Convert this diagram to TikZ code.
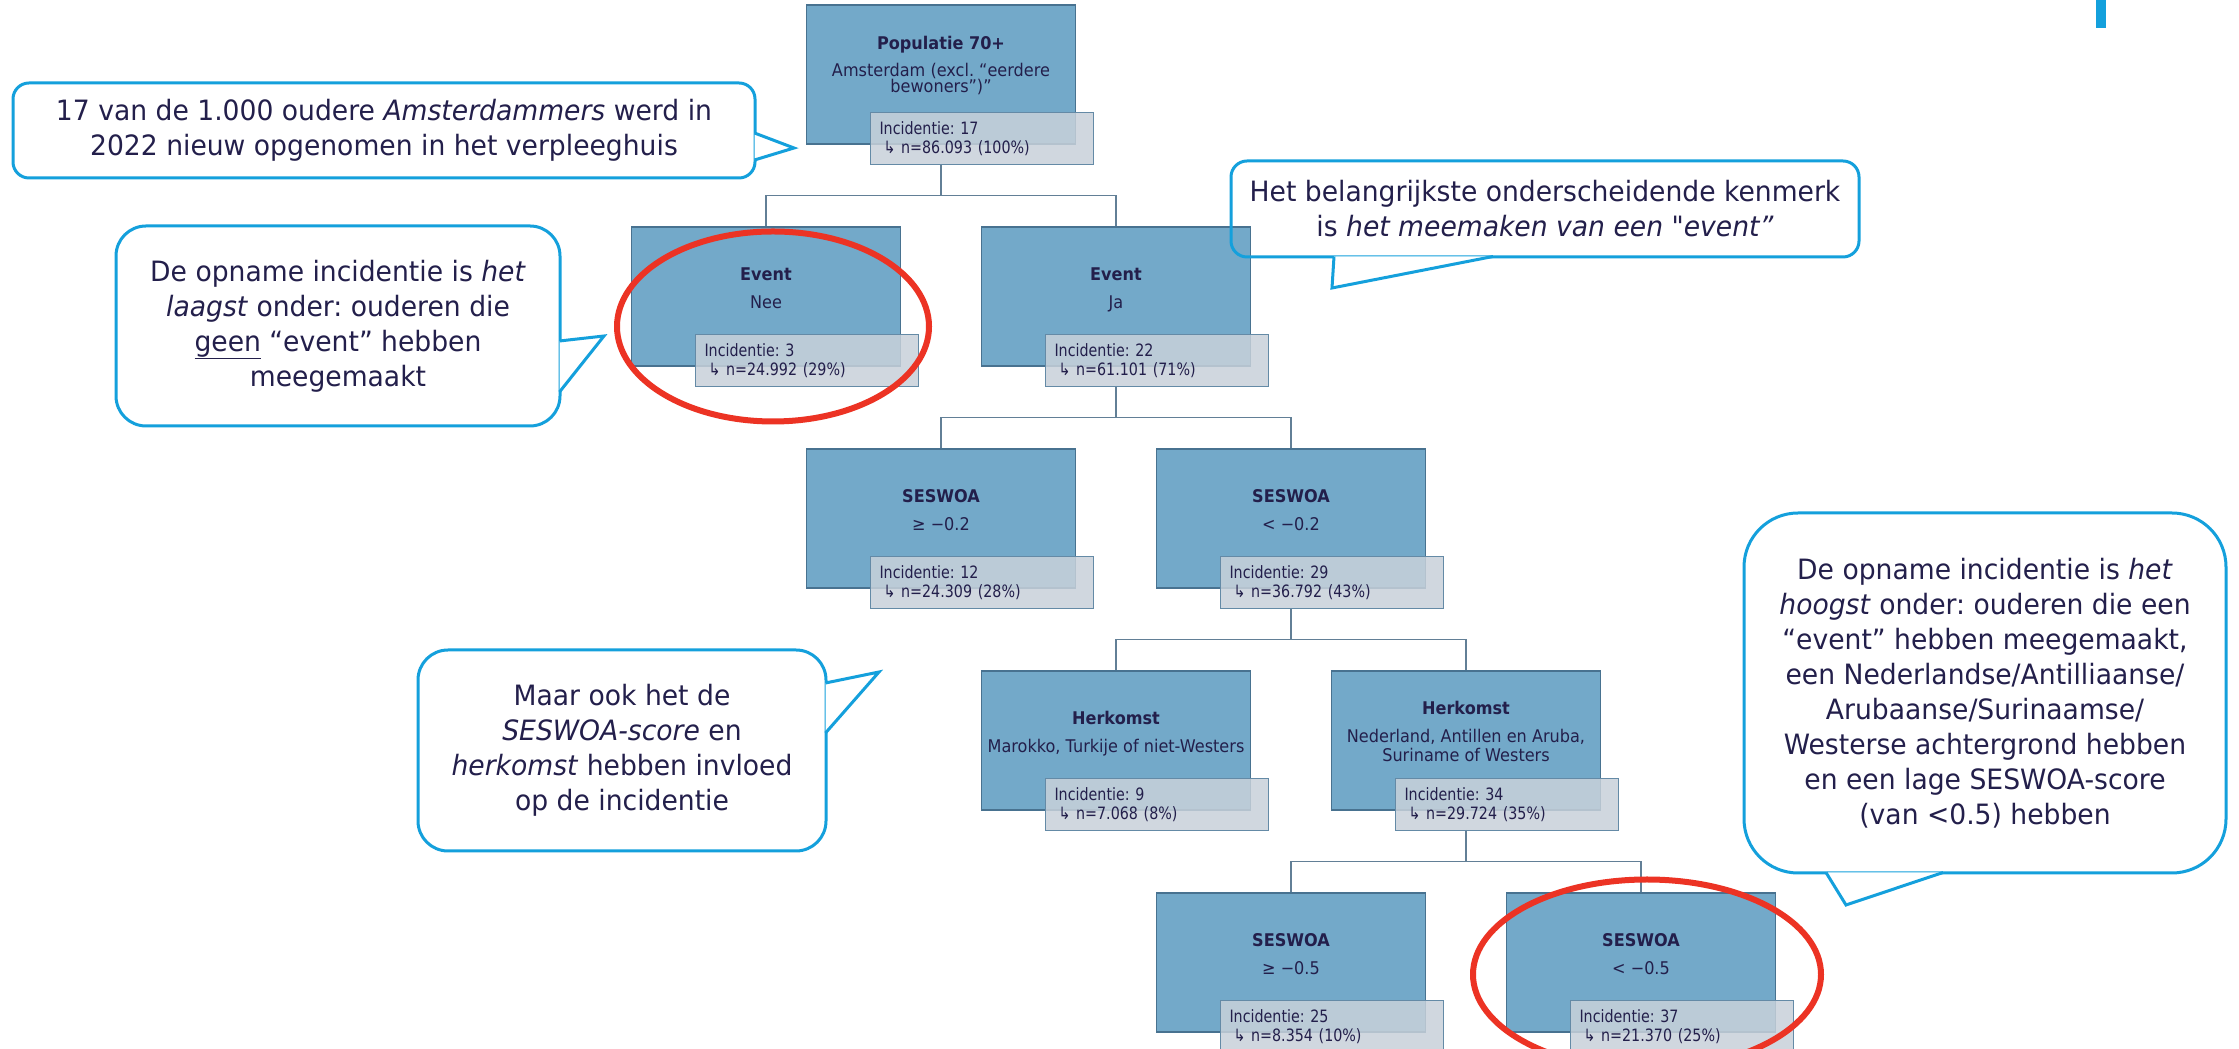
\documentclass[tikz,border=0pt]{standalone}
\usepackage{fontspec}
\setmainfont{DejaVu Sans}
\newfontfamily\splitfont[FakeStretch=0.92]{DejaVu Sans}
\newfontfamily\statfont[FakeStretch=0.84]{DejaVu Sans}
\newfontfamily\notefont[FakeStretch=0.95]{DejaVu Sans}
\frenchspacing
\usetikzlibrary{positioning, calc}
\definecolor{ink}{RGB}{35, 31, 75}
\definecolor{boxblue}{RGB}{115, 169, 201}
\definecolor{boxedge}{RGB}{72, 114, 144}
\definecolor{statgrey}{RGB}{200, 209, 218}
\definecolor{statedge}{RGB}{100, 138, 166}
\definecolor{linkgrey}{RGB}{98, 127, 150}
\definecolor{noteblue}{RGB}{20, 160, 220}
\definecolor{ringred}{RGB}{236, 51, 36}
\tikzset{
  split/.style={rectangle, draw=boxedge, fill=boxblue, line width=1.5pt, minimum width=269pt, minimum height=139pt, align=center, text=ink, font=\splitfont\fontsize{17.5}{19}\selectfont, text height=24pt, text depth=0pt},
  stat/.style={rectangle, draw=statedge, fill=statgrey, fill opacity=0.85, text opacity=1, line width=1.5pt, minimum height=52pt, text width=205pt, inner xsep=9pt, inner ysep=2pt, align=left, text=ink, font=\statfont\fontsize{17}{19}\selectfont, anchor=north west},
  note/.style={rectangle, draw=noteblue, line width=3pt, rounded corners=#1, align=center, text=ink, font=\notefont\fontsize{28}{35}\selectfont, inner sep=0pt},
  tail/.style={draw=noteblue, fill=white, line width=3pt},
  ring/.style={draw=ringred, line width=6pt},
}

\begin{document}
\begin{tikzpicture}[x=1pt, y=1pt,
  level distance=222pt, sibling distance=350pt,
  edge from parent/.style={draw=linkgrey, line width=1.5pt},
  edge from parent path={([yshift=-19pt]\tikzparentnode.south) -- ++(0,-32) -| (\tikzchildnode.north)}]
\path[use as bounding box, fill=white] (0,0) rectangle (2239,1049);

% decision tree
\node[split, text height=36pt] (root) at (941,974.5) {\textbf{Populatie 70+}\\[8pt] Amsterdam (excl. “eerdere\\[-3.5pt] bewoners”)”}
  child {node[split] (nee) {\textbf{Event}\\[9pt] Nee}}
  child {node[split] (ja) {\textbf{Event}\\[9pt] Ja}
    child {node[split] (sesa) {\textbf{SESWOA}\\[9pt] ≥ −0.2}}
    child {node[split] (sesb) {\textbf{SESWOA}\\[9pt] < −0.2}
      child {node[split] (herka) {\textbf{Herkomst}\\[9pt] Marokko, Turkije of niet-Westers}}
      child {node[split, text height=42pt] (herkb) {\textbf{Herkomst}\\[9pt] Nederland, Antillen en Aruba,\\ Suriname of Westers}
        child {node[split] (sesc) {\textbf{SESWOA}\\[9pt] ≥ −0.5}}
        child {node[split] (sesd) {\textbf{SESWOA}\\[9pt] < −0.5}}
      }
    }
  };

% incidence per split
\foreach \n/\inc/\cnt in {root/17/{86.093 (100\%)}, nee/3/{24.992 (29\%)}, ja/22/{61.101 (71\%)},
    sesa/12/{24.309 (28\%)}, sesb/29/{36.792 (43\%)}, herka/9/{7.068 (8\%)},
    herkb/34/{29.724 (35\%)}, sesc/25/{8.354 (10\%)}, sesd/37/{21.370 (25\%)}}
  \node[stat] (\n-stat) at ([shift={(64,33)}]\n.south west) {Incidentie: \inc\\\hspace*{4pt}↳ n=\cnt};

% highlighted groups
\draw[ring] ([shift={(7,-30)}]nee.center) ellipse [x radius=156, y radius=95];
\draw[ring] ([shift={(6,-12)}]sesd.center) ellipse [x radius=174, y radius=95];

% remarks
\node[note=16pt, minimum width=742pt, minimum height=95pt] (note1) at (384,918.5)
  {17 van de 1.000 oudere \textit{Amsterdammers} werd in\\ 2022 nieuw opgenomen in het verpleeghuis};
\coordinate (tip1) at (794,901);
\filldraw[tail] ([shift={(-2,-2.5)}]note1.east) -- (tip1) -- ([shift={(-2,-29.5)}]note1.east);

\node[note=30pt, minimum width=444pt, minimum height=200pt] (note2) at (338,723)
  {De opname incidentie is \textit{het}\\ \textit{laagst} onder: ouderen die\\ \underline{geen} “event” hebben\\ meegemaakt};
\coordinate (tip2) at (604,713);
\filldraw[tail] ([shift={(-2,-15)}]note2.east) -- (tip2) -- ([shift={(-2,-66)}]note2.east);

\node[note=16pt, minimum width=628pt, minimum height=96pt] (note3) at (1545,840)
  {Het belangrijkste onderscheidende kenmerk\\ is \textit{het meemaken van een \char34 event”}};
\coordinate (tip3) at (1332,761);
\filldraw[tail] ([shift={(-211,2)}]note3.south) -- (tip3) -- ([shift={(-52,2)}]note3.south);

\node[note=54pt, minimum width=482pt, minimum height=360pt] (note4) at (1985,356)
  {De opname incidentie is \textit{het}\\ \textit{hoogst} onder: ouderen die een\\ “event” hebben meegemaakt,\\ een Nederlandse/Antilliaanse/\\ Arubaanse/Surinaamse/\\ Westerse achtergrond hebben\\ en een lage SESWOA-score\\ (van <0.5) hebben};
\coordinate (tip4) at (1846,144);
\filldraw[tail] ([shift={(-159,2)}]note4.south) -- (tip4) -- ([shift={(-42,2)}]note4.south);

\node[note=30pt, minimum width=408pt, minimum height=201pt] (note5) at (622,298.5)
  {Maar ook het de\\ \textit{SESWOA-score} en\\ \textit{herkomst} hebben invloed\\ op de incidentie};
\coordinate (tip5) at (879,377);
\filldraw[tail] ([shift={(-2,67.5)}]note5.east) -- (tip5) -- ([shift={(-2,17.5)}]note5.east);

% slide marker
\fill[noteblue] (2096,1021) rectangle (2106,1049);
\end{tikzpicture}
\end{document}
